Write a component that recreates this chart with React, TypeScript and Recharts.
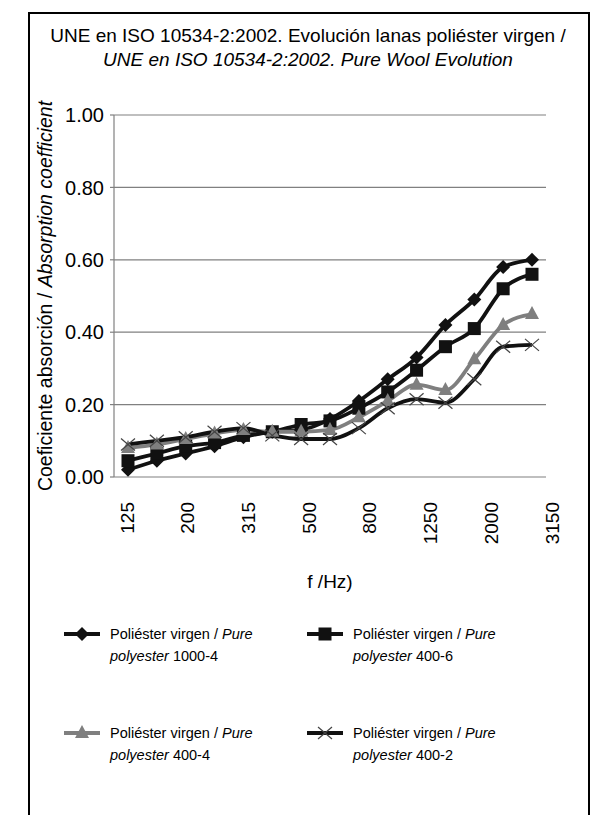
import { LineChart, Line, XAxis, YAxis, CartesianGrid, Legend } from 'recharts';

const FREQS = ['125', '160', '200', '250', '315', '400', '500', '630', '800', '1000', '1250', '1600', '2000', '2500', '3150'];
const POLY_1000_4 = [0.02, 0.045, 0.065, 0.085, 0.11, 0.125, 0.13, 0.16, 0.21, 0.27, 0.33, 0.42, 0.49, 0.58, 0.6];
const POLY_400_6 = [0.045, 0.065, 0.085, 0.095, 0.115, 0.125, 0.145, 0.155, 0.19, 0.235, 0.295, 0.36, 0.41, 0.52, 0.56];
const POLY_400_4 = [0.08, 0.09, 0.105, 0.12, 0.13, 0.125, 0.125, 0.13, 0.165, 0.21, 0.255, 0.24, 0.325, 0.42, 0.45];
const POLY_400_2 = [0.09, 0.1, 0.11, 0.125, 0.135, 0.115, 0.105, 0.105, 0.135, 0.19, 0.215, 0.205, 0.27, 0.36, 0.365];
const Y_TICKS = [0, 0.2, 0.4, 0.6, 0.8, 1];

const FONT = '"Liberation Sans", Arial, sans-serif';

type Shape = 'diamond' | 'square' | 'triangle' | 'cross';

const SERIES: { key: string; code: string; color: string; shape: Shape; values: number[] }[] = [
  { key: 'a', code: '1000-4', color: '#111', shape: 'diamond', values: POLY_1000_4 },
  { key: 'b', code: '400-6', color: '#111', shape: 'square', values: POLY_400_6 },
  { key: 'c', code: '400-4', color: '#7f7f7f', shape: 'triangle', values: POLY_400_4 },
  { key: 'd', code: '400-2', color: '#111', shape: 'cross', values: POLY_400_2 },
];

const data = FREQS.map((f, i) => {
  const row: Record<string, string | number> = { f };
  SERIES.forEach((s) => (row[s.key] = s.values[i]));
  return row;
});

function Marker({ cx, cy, shape, color }: { cx: number; cy: number; shape: Shape; color: string }) {
  if (cx == null || cy == null) return null;
  switch (shape) {
    case 'diamond':
      return <polygon points={`${cx},${cy - 7} ${cx + 7},${cy} ${cx},${cy + 7} ${cx - 7},${cy}`} fill={color} />;
    case 'square':
      return <rect x={cx - 6.5} y={cy - 6.5} width={13} height={13} fill={color} />;
    case 'triangle':
      return <polygon points={`${cx},${cy - 8} ${cx + 7},${cy + 5} ${cx - 7},${cy + 5}`} fill={color} />;
    default:
      return (
        <g stroke="#444" strokeWidth={1.2}>
          <line x1={cx - 7} y1={cy - 6} x2={cx + 7} y2={cy + 6} />
          <line x1={cx - 7} y1={cy + 6} x2={cx + 7} y2={cy - 6} />
        </g>
      );
  }
}

const XTick = (props: any) => {
  const { x, y, payload } = props;
  // labels in the original drift slightly right of the points
  const tx = x + payload.index * 1.5 - 1;
  return (
    <text x={tx} y={y} dy="0.35em" textAnchor="end" transform={`rotate(-90, ${tx}, ${y})`}
      fontSize={19} fontFamily={FONT} fill="#000">
      {payload.value}
    </text>
  );
};

const YTitle = (props: any) => {
  const { viewBox } = props;
  const cx = viewBox.x + 37;
  const cy = viewBox.y + viewBox.height / 2;
  return (
    <text x={cx} y={cy} dy="0.35em" textAnchor="middle" transform={`rotate(-90, ${cx}, ${cy})`}
      fontSize={19.5} fontFamily={FONT} fill="#000">
      Coeficiente absorción / <tspan fontStyle="italic">Absorption coefficient</tspan>
    </text>
  );
};

const LegendBox = () => (
  <div style={{ display: 'grid', gridTemplateColumns: '243px 243px', rowGap: 55, fontFamily: FONT, fontSize: 14.5, lineHeight: '22px' }}>
    {SERIES.map((s) => (
      <div key={s.key} style={{ display: 'flex', alignItems: 'flex-start' }}>
        <svg width={40} height={22} style={{ flex: 'none', marginRight: 8 }}>
          <line x1={2} y1={11} x2={38} y2={11} stroke={s.color} strokeWidth={4} />
          <Marker cx={20} cy={11} shape={s.shape} color={s.color} />
        </svg>
        <div>
          Poliéster virgen / <i>Pure</i>
          <br />
          <i>polyester</i> {s.code}
        </div>
      </div>
    ))}
  </div>
);

export default function App() {
  return (
    <div style={{ position: 'relative', width: 600, height: 807, fontFamily: FONT }}>
      <style>{'body{overflow:hidden}'}</style>
      <div style={{ position: 'absolute', left: 20, top: 4, width: 562, height: 820, border: '2px solid #000', boxSizing: 'border-box' }} />
      <div style={{ position: 'absolute', left: 0, top: 16, width: 600, textAlign: 'center', fontSize: 19, lineHeight: '24px' }}>
        UNE en ISO 10534-2:2002. Evolución lanas poliéster virgen /
        <br />
        <i>UNE en ISO 10534-2:2002. Pure Wool Evolution</i>
      </div>
      <div style={{ position: 'absolute', left: 0, top: 0 }}>
        <LineChart width={600} height={807} data={data} margin={{ top: 107, right: 62, bottom: 218, left: 0 }}>
          <CartesianGrid vertical={false} stroke="#808080" strokeWidth={1.2} />
          <XAxis dataKey="f" interval={1} tick={<XTick />} tickLine={false} axisLine={false} tickSize={0} tickMargin={25}
            height={120} padding={{ left: 14, right: 14 }}
            label={{ value: 'f /Hz)', position: 'insideBottom', offset: 9, fontSize: 19, fontFamily: FONT, fill: '#000' }} />
          <YAxis domain={[0, 1]} ticks={Y_TICKS} width={106} tickFormatter={(v: number) => v.toFixed(2)}
            tick={{ fontSize: 20, fontFamily: FONT, fill: '#000' }} tickSize={4} tickMargin={6}
            stroke="#808080" strokeWidth={1.2} label={<YTitle />} />
          <Legend layout="vertical" verticalAlign="middle" align="center" content={<LegendBox />}
            wrapperStyle={{ top: 615, left: 54, width: 500 }} />
          {SERIES.map((s) => (
            <Line key={s.key} dataKey={s.key} type="monotone" stroke={s.color} strokeWidth={3.8}
              dot={(p: any) => <Marker key={`${s.key}-${p.index}`} cx={p.cx} cy={p.cy} shape={s.shape} color={s.color} />}
              activeDot={false} isAnimationActive={false} />
          ))}
        </LineChart>
      </div>
    </div>
  );
}
